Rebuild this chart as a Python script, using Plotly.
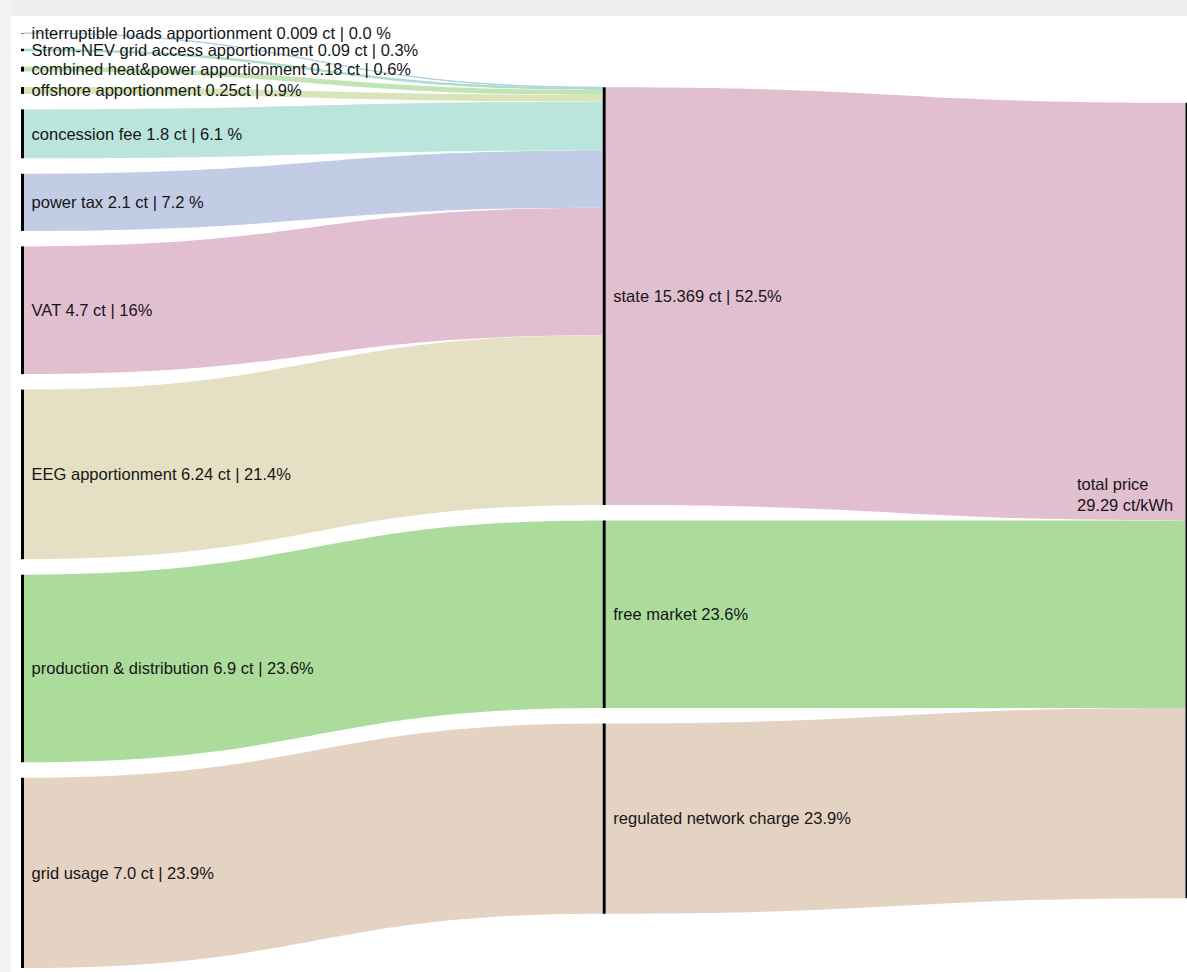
import plotly.graph_objects as go

# ---------------- data ----------------
labels = [
    "interruptible loads apportionment 0.009 ct | 0.0 %",
    "Strom-NEV grid access apportionment 0.09 ct | 0.3%",
    "combined heat&power apportionment 0.18 ct | 0.6%",
    "offshore apportionment 0.25ct | 0.9%",
    "concession fee 1.8 ct | 6.1 %",
    "power tax 2.1 ct | 7.2 %",
    "VAT 4.7 ct | 16%",
    "EEG apportionment 6.24 ct | 21.4%",
    "production & distribution 6.9 ct | 23.6%",
    "grid usage 7.0 ct | 23.9%",
    "state 15.369 ct | 52.5%",
    "free market 23.6%",
    "regulated network charge 23.9%",
    "total price<br>29.29 ct/kWh",
]
link_source = [0, 1, 2, 3, 4, 5, 6, 7, 8, 9, 10, 11, 12]
link_target = [10, 10, 10, 10, 10, 10, 10, 10, 11, 12, 13, 13, 13]
link_value = [0.009, 0.09, 0.18, 0.25, 1.8, 2.1, 4.7, 6.24, 6.9, 7.0, 15.369, 6.9, 7.0]
columns = [[0, 1, 2, 3, 4, 5, 6, 7, 8, 9], [10, 11, 12], [13]]

# ---------------- style ----------------
link_colors = ["#b0d3e2", "#acdcca", "#c2e3b4", "#d8e5b8", "#bae4dc", "#c2cce5",
               "#e2bfd0", "#e5e0c4", "#acdc9c", "#e4d2c3",
               "#e2bfd0", "#acdc9c", "#e4d2c3"]
W, H = 1187, 972
MT, MB = 33, 4
PH = H - MT - MB
PAD = 15.5
THICK = 3
col_x = [22.5 / W, 604.2 / W, 1187.0 / W]
FONT = dict(family="Liberation Sans, Arial, Helvetica, sans-serif", size=16.5, color="#161616")

# node values from links
n_nodes = len(labels)
inflow = [0.0] * n_nodes
outflow = [0.0] * n_nodes
for s, t, v in zip(link_source, link_target, link_value):
    outflow[s] += v
    inflow[t] += v
node_val = [max(a, b) for a, b in zip(inflow, outflow)]

# same scale plotly/d3-sankey uses
ky = min((PH - (len(c) - 1) * PAD) / sum(node_val[i] for i in c) for c in columns)

node_x = [0.0] * n_nodes
node_y = [0.0] * n_nodes
for ci, col in enumerate(columns):
    span = sum(node_val[i] for i in col) * ky + (len(col) - 1) * PAD
    y = (PH - span) / 2
    for i in col:
        h = node_val[i] * ky
        node_x[i] = col_x[ci]
        node_y[i] = max((y + h / 2) / PH, 1e-4)
        y += h + PAD

node_labels = ["\u00a0" + l for l in labels[:-1]] + [""]

fig = go.Figure(go.Sankey(
    arrangement="fixed",
    hoverinfo="none",
    textfont=dict(**FONT, shadow="none"),
    node=dict(
        label=node_labels,
        x=node_x,
        y=node_y,
        pad=PAD,
        thickness=THICK,
        color="#000000",
        line=dict(width=0),
        hoverinfo="none",
    ),
    link=dict(
        source=link_source,
        target=link_target,
        value=link_value,
        color=link_colors,
        line=dict(width=0),
        hoverinfo="none",
    ),
))

# total price label, left aligned like the reference
fig.add_annotation(
    text=labels[-1], xref="paper", yref="paper",
    x=1075 / W, y=(H - MB - 494) / PH, xanchor="left", yanchor="middle",
    align="left", showarrow=False, font=FONT,
)

# light grey window frame (top and left)
fig.add_shape(type="rect", xref="paper", yref="paper", x0=0, x1=1,
              y0=(H - MB - 16) / PH, y1=(H - MB) / PH + 0.01,
              fillcolor="#efefef", line=dict(width=0), layer="above")
fig.add_shape(type="rect", xref="paper", yref="paper", x0=0, x1=11 / W,
              y0=-MB / PH - 0.01, y1=(H - MB) / PH + 0.01,
              fillcolor="#f2f2f2", line=dict(width=0), layer="above")

fig.update_layout(
    width=W, height=H,
    margin=dict(l=0, r=0, t=MT, b=MB),
    paper_bgcolor="#ffffff",
    font=FONT,
    showlegend=False,
)

fig.write_html(
    "out.html",
    config={"displayModeBar": False},
    post_script="document.body.style.margin='0px';document.body.style.overflow='hidden';",
)
